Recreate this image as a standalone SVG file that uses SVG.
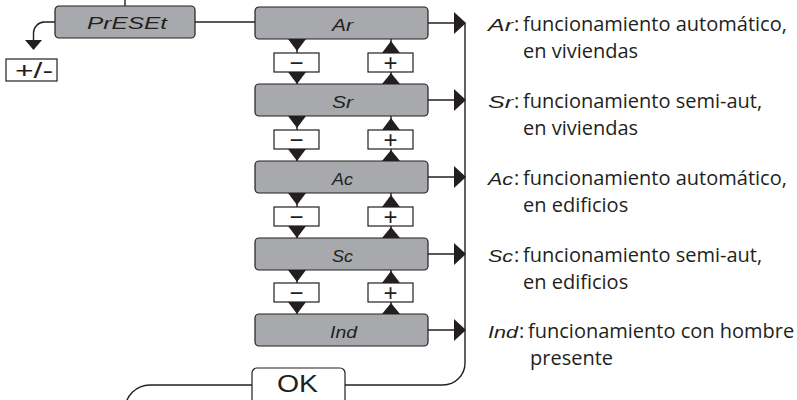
<svg xmlns="http://www.w3.org/2000/svg" width="797" height="400" viewBox="0 0 797 400">
<defs>
<style>
.box{fill:#a7a9ac;stroke:#231f20;stroke-width:1.2}
.wbox{fill:#fff;stroke:#231f20;stroke-width:1.2}
.ln{fill:none;stroke:#231f20;stroke-width:1.4}
.tri{fill:#231f20}
.seg{font-family:"Liberation Sans",sans-serif;font-style:italic;font-size:17px;fill:#231f20}
.pm{font-family:"Liberation Sans",sans-serif;font-size:24px;fill:#231f20;text-anchor:middle}
.desc{font-family:"Open Sans",sans-serif;font-size:20px;fill:#231f20}
</style>
</defs>
<rect width="797" height="400" fill="#fff"/>
<g id="connectors">
<path class="ln" d="M125 0 V6"/>
<path class="ln" d="M195 22 H255"/>
<path class="ln" d="M55 22 H44 A11 11 0 0 0 33.5 33 V41"/>
<polygon class="tri" points="25,40 42,40 33.5,50"/>
<path class="ln" d="M465 23 V363 A22 22 0 0 1 443 385 H345"/>
<path class="ln" d="M252 385 H150 A25 25 0 0 0 125 410"/>
<path class="ln" d="M428 23 H456 M428 100 H456 M428 177 H456 M428 254 H456 M428 330 H456"/>
<polygon class="tri" points="454,12 454,34 466,23"/>
<polygon class="tri" points="454,89 454,111 466,100"/>
<polygon class="tri" points="454,166 454,188 466,177"/>
<polygon class="tri" points="454,243 454,265 466,254"/>
<polygon class="tri" points="454,319 454,341 466,330"/>
<g id="updown">
<path class="ln" d="M297 39 V84 M391 39 V84 M297 116 V161 M391 116 V161 M297 193 V238 M391 193 V238 M297 270 V314 M391 270 V314"/>
<polygon class="tri" points="288,39 306,39 297,51"/><polygon class="tri" points="288,72 306,72 297,84"/>
<polygon class="tri" points="382,53 400,53 391,41"/><polygon class="tri" points="382,84 400,84 391,73"/>
<polygon class="tri" points="288,116 306,116 297,128"/><polygon class="tri" points="288,149 306,149 297,161"/>
<polygon class="tri" points="382,130 400,130 391,118"/><polygon class="tri" points="382,161 400,161 391,150"/>
<polygon class="tri" points="288,193 306,193 297,205"/><polygon class="tri" points="288,226 306,226 297,238"/>
<polygon class="tri" points="382,207 400,207 391,195"/><polygon class="tri" points="382,238 400,238 391,227"/>
<polygon class="tri" points="288,270 306,270 297,282"/><polygon class="tri" points="288,302 306,302 297,314"/>
<polygon class="tri" points="382,283 400,283 391,271"/><polygon class="tri" points="382,314 400,314 391,303"/>
</g>
</g>
<g id="preset">
<rect class="box" x="55" y="6" width="140" height="32" rx="4"/>
<text class="seg" x="87" y="29" font-size="19" textLength="80" lengthAdjust="spacingAndGlyphs">PrESEt</text>
</g>
<g id="plusminus">
<rect class="wbox" x="6" y="59" width="51" height="22"/>
<text x="15" y="77.5" font-family="Liberation Sans, sans-serif" font-size="22" fill="#231f20" textLength="38" lengthAdjust="spacingAndGlyphs">+/-</text>
</g>
<g id="node-ar">
<rect class="box" x="255" y="7" width="173" height="32" rx="4"/>
<text class="seg" x="332" y="31" textLength="21" lengthAdjust="spacingAndGlyphs">Ar</text>
</g>
<g id="node-sr">
<rect class="box" x="255" y="84" width="173" height="32" rx="4"/>
<text class="seg" x="332" y="108" textLength="21" lengthAdjust="spacingAndGlyphs">Sr</text>
</g>
<g id="node-ac">
<rect class="box" x="255" y="161" width="173" height="32" rx="4"/>
<text class="seg" x="332" y="185" textLength="21" lengthAdjust="spacingAndGlyphs">Ac</text>
</g>
<g id="node-sc">
<rect class="box" x="255" y="238" width="173" height="32" rx="4"/>
<text class="seg" x="332" y="262" textLength="21" lengthAdjust="spacingAndGlyphs">Sc</text>
</g>
<g id="node-ind">
<rect class="box" x="255" y="314" width="173" height="32" rx="4"/>
<text class="seg" x="330" y="338" textLength="27" lengthAdjust="spacingAndGlyphs">Ind</text>
</g>
<g id="minus-boxes">
<rect class="wbox" x="274" y="53" width="45" height="19"/><text class="pm" x="296.5" y="71">−</text>
<rect class="wbox" x="274" y="130" width="45" height="19"/><text class="pm" x="296.5" y="148">−</text>
<rect class="wbox" x="274" y="207" width="45" height="19"/><text class="pm" x="296.5" y="225">−</text>
<rect class="wbox" x="274" y="283" width="45" height="19"/><text class="pm" x="296.5" y="301">−</text>
</g>
<g id="plus-boxes">
<rect class="wbox" x="368" y="53" width="45" height="19"/><text class="pm" x="390.5" y="71">+</text>
<rect class="wbox" x="368" y="130" width="45" height="19"/><text class="pm" x="390.5" y="148">+</text>
<rect class="wbox" x="368" y="207" width="45" height="19"/><text class="pm" x="390.5" y="225">+</text>
<rect class="wbox" x="368" y="283" width="45" height="19"/><text class="pm" x="390.5" y="301">+</text>
</g>
<g id="ok">
<rect class="wbox" x="252" y="368" width="93" height="44" rx="5"/>
<text x="277" y="392" font-family="Liberation Sans, sans-serif" font-size="23" fill="#231f20" textLength="41" lengthAdjust="spacingAndGlyphs">OK</text>
</g>
<g id="legend">
<text class="seg" x="488" y="31" textLength="25" lengthAdjust="spacingAndGlyphs">Ar</text>
<text class="desc" x="514" y="31">:</text>
<text class="desc" x="523" y="31">funcionamiento automático,</text>
<text class="desc" x="523" y="58">en viviendas</text>
<text class="seg" x="488" y="108" textLength="25" lengthAdjust="spacingAndGlyphs">Sr</text>
<text class="desc" x="514" y="108">:</text>
<text class="desc" x="523" y="108">funcionamiento semi-aut,</text>
<text class="desc" x="523" y="135">en viviendas</text>
<text class="seg" x="488" y="185" textLength="25" lengthAdjust="spacingAndGlyphs">Ac</text>
<text class="desc" x="514" y="185">:</text>
<text class="desc" x="523" y="185">funcionamiento automático,</text>
<text class="desc" x="523" y="212">en edificios</text>
<text class="seg" x="488" y="262" textLength="25" lengthAdjust="spacingAndGlyphs">Sc</text>
<text class="desc" x="514" y="262">:</text>
<text class="desc" x="523" y="262">funcionamiento semi-aut,</text>
<text class="desc" x="523" y="289">en edificios</text>
<text class="seg" x="488" y="338" textLength="30" lengthAdjust="spacingAndGlyphs">Ind</text>
<text class="desc" x="519" y="338">:</text>
<text class="desc" x="528" y="338">funcionamiento con hombre</text>
<text class="desc" x="530" y="365">presente</text>
</g>
</svg>
